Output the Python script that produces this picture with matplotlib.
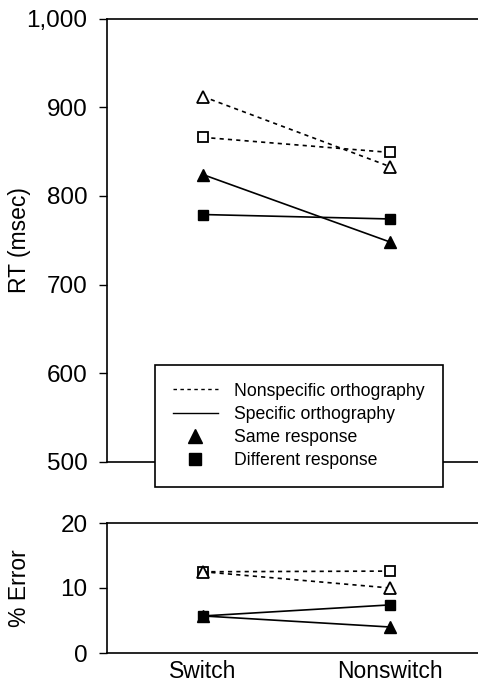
import matplotlib.pyplot as plt
from matplotlib.lines import Line2D
from matplotlib.legend_handler import HandlerLine2D

plt.rcParams['font.family'] = ['Liberation Sans', 'DejaVu Sans']

conditions = ['Switch', 'Nonswitch']

# RT (msec)
rt_nonspec_same = [912, 833]
rt_nonspec_diff = [866, 849]
rt_spec_same = [824, 748]
rt_spec_diff = [779, 774]

# % Error
err_nonspec_same = [12.5, 10.0]
err_nonspec_diff = [12.5, 12.6]
err_spec_same = [5.7, 4.0]
err_spec_diff = [5.7, 7.4]

rt_ticks = [500, 600, 700, 800, 900, 1000]
rt_ticklabels = ['500', '600', '700', '800', '900', '1,000']
err_ticks = [0, 10, 20]

W, H = 478, 683
fig = plt.figure(figsize=(W / 100, H / 100), dpi=100)

ax_rt = fig.add_axes([107 / W, 1 - 462 / H, 1 - 107 / W, (462 - 18.5) / H])
ax_err = fig.add_axes([107 / W, 1 - 653 / H, 1 - 107 / W, (653 - 523) / H])

xs = [0, 1]
dash = (0, (2.5, 2.5))
lw = 1.2
ms_tri = 8.5
ms_sq = 7


def draw_series(ax, ns_same, ns_diff, s_same, s_diff):
    # nonspecific: dashed with open markers
    ax.plot(xs, ns_diff, color='black', linestyle=dash, linewidth=lw,
            marker='s', markersize=ms_sq, markerfacecolor='white',
            markeredgecolor='black', markeredgewidth=1.3, zorder=3)
    ax.plot(xs, ns_same, color='black', linestyle=dash, linewidth=lw,
            marker='^', markersize=ms_tri, markerfacecolor='white',
            markeredgecolor='black', markeredgewidth=1.3, zorder=3)
    # specific: solid with filled markers
    ax.plot(xs, s_same, color='black', linestyle='-', linewidth=lw,
            marker='^', markersize=ms_tri, markerfacecolor='black', zorder=3)
    ax.plot(xs, s_diff, color='black', linestyle='-', linewidth=lw,
            marker='s', markersize=ms_sq, markerfacecolor='black', zorder=3)


draw_series(ax_rt, rt_nonspec_same, rt_nonspec_diff, rt_spec_same, rt_spec_diff)
draw_series(ax_err, err_nonspec_same, err_nonspec_diff, err_spec_same, err_spec_diff)

for ax in (ax_rt, ax_err):
    ax.set_xlim(-0.513, 1.47)
    ax.spines['right'].set_visible(False)
    for s in ('left', 'top', 'bottom'):
        ax.spines[s].set_linewidth(1.2)
    ax.tick_params(axis='y', direction='out', length=6, width=1, labelsize=17.5, pad=8)
    ax.tick_params(axis='x', length=0, labelsize=16.5, pad=5)

ax_rt.set_ylim(500, 1000)
ax_rt.set_yticks(rt_ticks)
ax_rt.set_yticklabels(rt_ticklabels)
ax_rt.set_xticks([])
ax_rt.set_ylabel('RT (msec)', fontsize=16.5)
ax_rt.yaxis.set_label_coords(-0.205, 0.5)

ax_err.set_ylim(0, 20)
ax_err.set_yticks(err_ticks)
ax_err.set_xticks(xs)
ax_err.set_xticklabels(conditions)
ax_err.set_ylabel('% Error', fontsize=16.5)
ax_err.yaxis.set_label_coords(-0.205, 0.5)


class RightMarkerHandler(HandlerLine2D):
    # put the single legend marker near the right end of the handle
    def get_xdata(self, legend, xdescent, ydescent, width, height, fontsize):
        xdata, _ = super().get_xdata(legend, xdescent, ydescent, width, height, fontsize)
        return xdata, [-xdescent + width * 0.88]


handles = [
    Line2D([], [], color='black', linestyle=(0, (2.5, 2.5)), linewidth=1),
    Line2D([], [], color='black', linestyle='-', linewidth=1),
    Line2D([], [], color='black', linestyle='none', marker='^', markersize=9.5),
    Line2D([], [], color='black', linestyle='none', marker='s', markersize=8),
]
labels = ['Nonspecific orthography', 'Specific orthography',
          'Same response', 'Different response']
leg = ax_rt.legend(handles, labels, loc='upper left',
                   bbox_to_anchor=(155 / W, 1 - 365 / H),
                   bbox_transform=fig.transFigure,
                   handler_map={Line2D: RightMarkerHandler()},
                   fontsize=12.7, frameon=True, fancybox=False,
                   edgecolor='black', framealpha=1, handlelength=2.55,
                   handletextpad=0.95, labelspacing=0.35, borderpad=1.0,
                   borderaxespad=0)
leg.get_frame().set_linewidth(1.2)
leg.set_zorder(10)

fig.savefig('out.png', dpi=100)
